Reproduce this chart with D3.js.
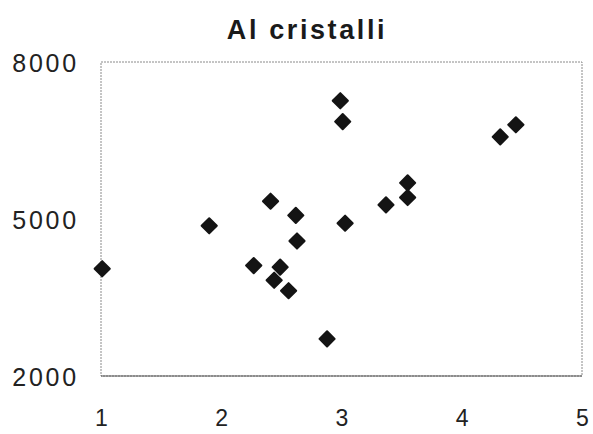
<!DOCTYPE html>
<html>
<head>
<meta charset="utf-8">
<script src="https://cdn.jsdelivr.net/npm/d3@7"></script>
<style>
  html, body { margin: 0; padding: 0; background: #fff; }
  svg { display: block; }
</style>
</head>
<body>
<svg id="chart" width="593" height="434"></svg>
<script>
const title = "Al cristalli";
const xTicks = [1, 2, 3, 4, 5];
const yTicks = [2000, 5000, 8000];
const xValues = [1.01, 1.90, 2.41, 2.62, 2.63, 3.03, 2.27, 2.49, 2.44, 2.56, 2.88, 2.99, 3.01, 4.32, 4.45, 3.55, 3.55, 3.37];
const yValues = [4050, 4870, 5340, 5070, 4580, 4920, 4110, 4080, 3830, 3630, 2710, 7260, 6860, 6570, 6800, 5690, 5410, 5270];

(function () {
const svg = d3.select("#chart");
const mLeft = 101, mRight = 582, mTop = 62, mBottom = 376;

const x = d3.scaleLinear().domain([1, 5]).range([mLeft, mRight]);
const y = d3.scaleLinear().domain([2000, 8000]).range([mBottom, mTop]);

// frame
svg.append("rect")
  .attr("x", mLeft).attr("y", mTop)
  .attr("width", mRight - mLeft).attr("height", mBottom - mTop)
  .attr("fill", "none").attr("stroke", "#8a8a8a").attr("stroke-width", 1)
  .attr("stroke-dasharray", "2,1");
svg.append("line")
  .attr("x1", mLeft).attr("x2", mRight).attr("y1", mBottom).attr("y2", mBottom)
  .attr("stroke", "#555").attr("stroke-width", 1.2);

// title
svg.append("text")
  .attr("x", 307).attr("y", 39)
  .attr("text-anchor", "middle")
  .style("font-family", "'Liberation Sans', Arial, sans-serif")
  .style("font-weight", "bold")
  .style("font-size", "27px")
  .style("letter-spacing", "2.6px")
  .attr("fill", "#1a1a1a")
  .text(title);

// y axis
const yAxis = d3.axisLeft(y).tickValues(yTicks).tickSize(0).tickPadding(0).tickFormat(d3.format("d"));
const gy = svg.append("g").attr("transform", `translate(${mLeft - 22},0)`).call(yAxis);
gy.select(".domain").remove();
gy.selectAll("text")
  .style("font-family", "'Liberation Sans', Arial, sans-serif")
  .style("font-size", "25px")
  .style("letter-spacing", "2.8px")
  .attr("fill", "#222")
  .attr("dy", "0.36em");

// x axis
const xAxis = d3.axisBottom(x).tickValues(xTicks).tickSize(0).tickPadding(0).tickFormat(d3.format("d"));
const gx = svg.append("g").attr("transform", `translate(0,${mBottom})`).call(xAxis);
gx.select(".domain").remove();
gx.selectAll("text")
  .style("font-family", "'Liberation Sans', Arial, sans-serif")
  .style("font-size", "23px")
  .attr("fill", "#222")
  .attr("dy", "0")
  .attr("y", 50);

// points
const r = 7.6;
const diamond = `M0,${-r}L${r},0L0,${r}L${-r},0Z`;
svg.append("g").selectAll("path")
  .data(xValues.map((v, i) => [v, yValues[i]]))
  .join("path")
  .attr("d", diamond)
  .attr("transform", d => `translate(${x(d[0])},${y(d[1])})`)
  .attr("fill", "#141414")
  .attr("stroke", "#141414")
  .attr("stroke-width", 2)
  .attr("stroke-linejoin", "round");
})();
</script>
</body>
</html>
